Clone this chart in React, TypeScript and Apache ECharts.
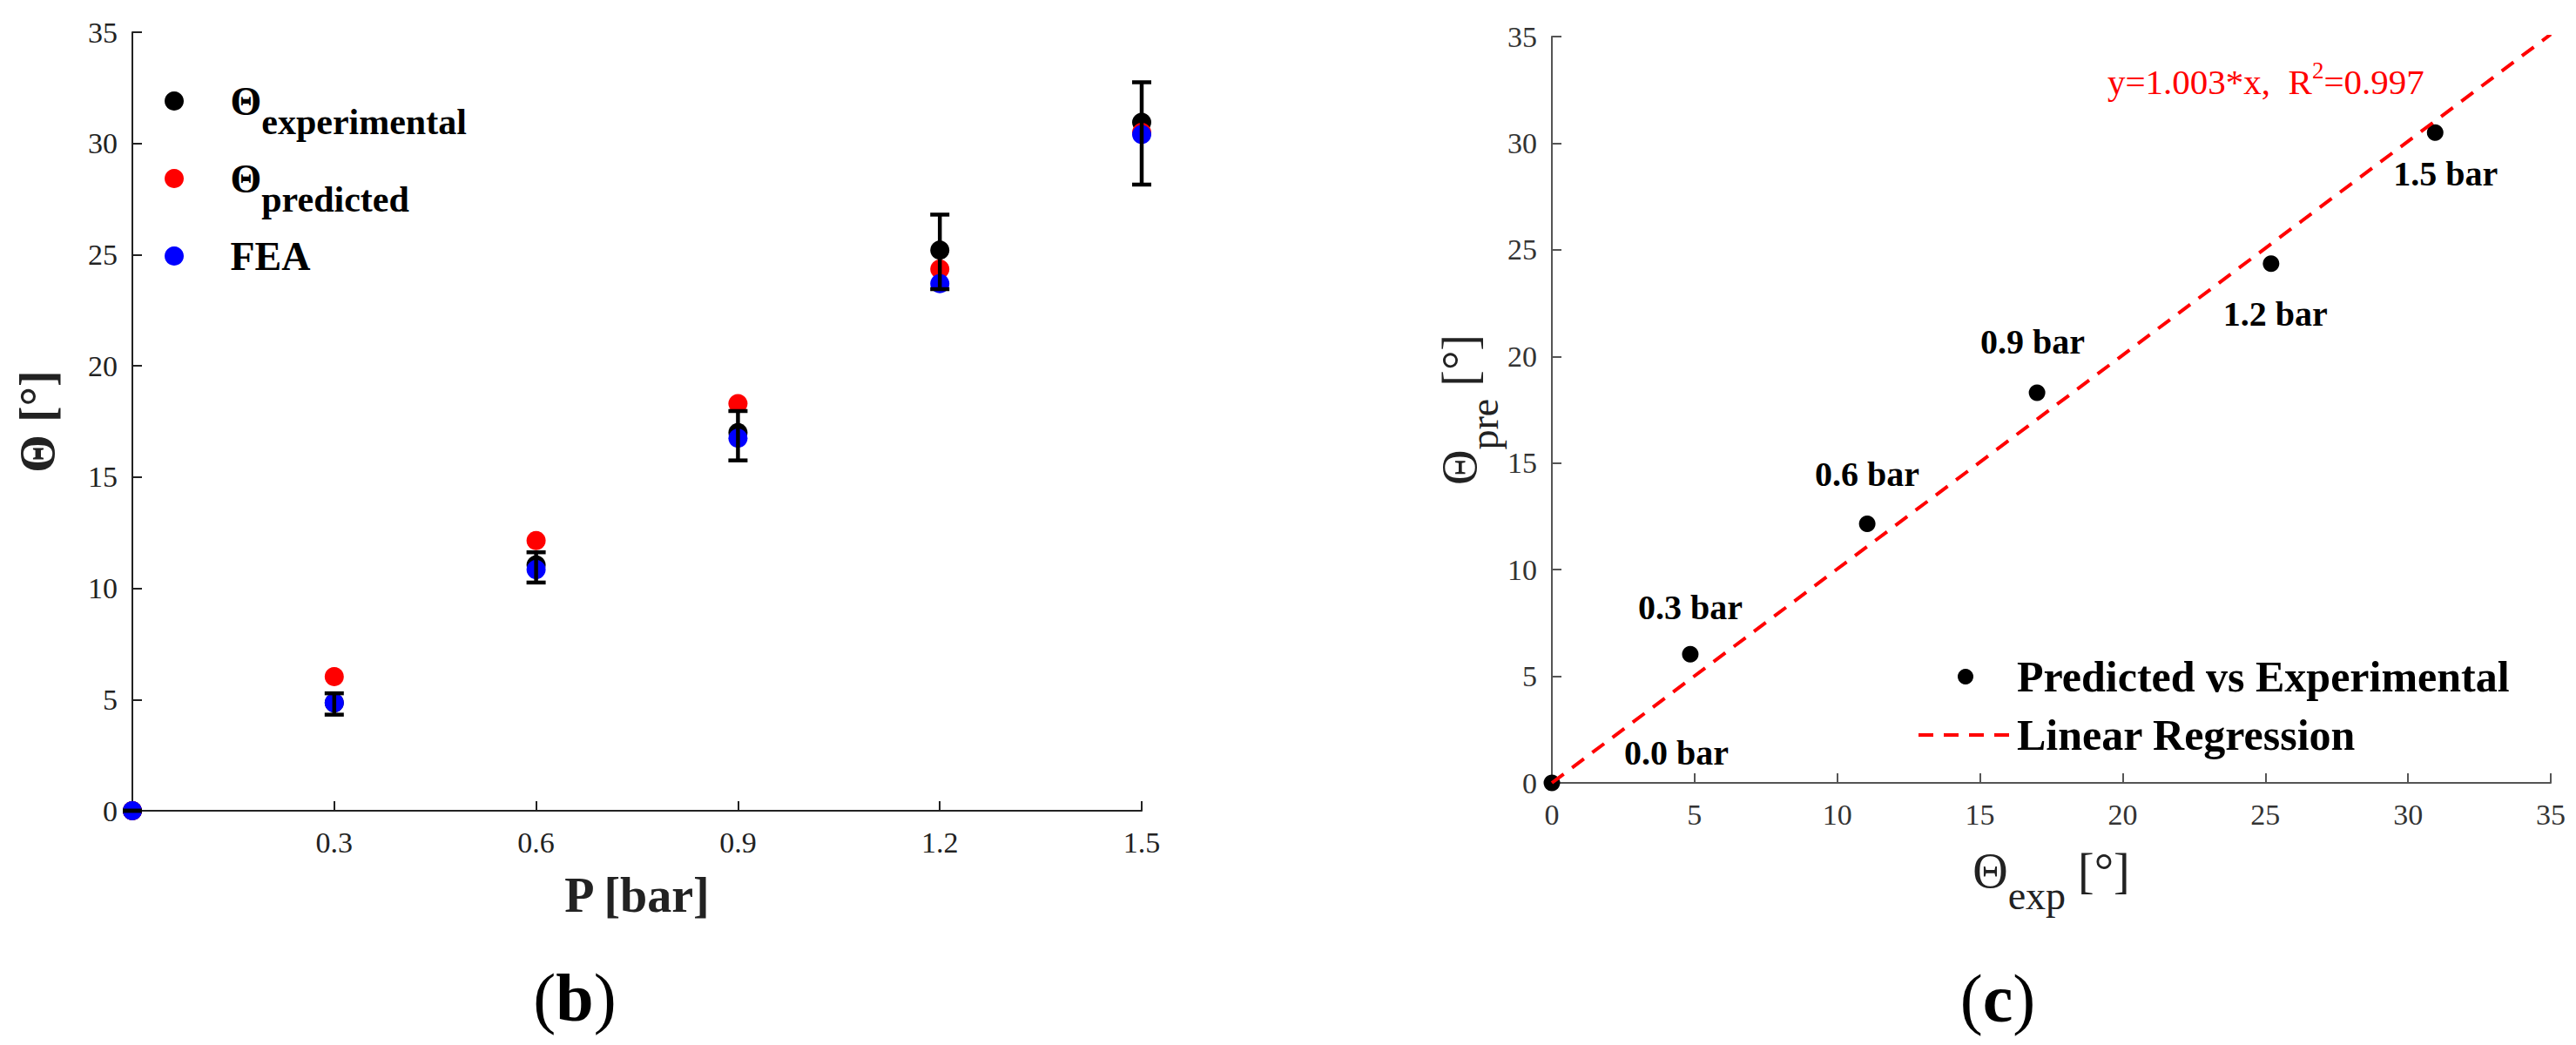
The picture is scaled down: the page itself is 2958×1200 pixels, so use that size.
import React, { useEffect, useRef } from 'react';
import * as echarts from 'echarts';

// ---------- data ----------
const pressureBar = [0, 0.3, 0.6, 0.9, 1.2, 1.5];
const thetaExperimental = [0, 4.85, 11.05, 17.0, 25.2, 30.95];
const thetaExpLow = [0, 4.32, 10.26, 15.75, 23.45, 28.15];
const thetaExpHigh = [0, 5.28, 11.62, 17.97, 26.8, 32.75];
const thetaPredicted = [0, 6.03, 12.15, 18.3, 24.35, 30.5];
const thetaFEA = [0, 4.85, 10.84, 16.75, 23.7, 30.4];
const regressionSlope = 1.003;
const regressionR2 = 0.997;
const regressionXRange = [0, 35];
const pointLabels = pressureBar.map((p) => `${p.toFixed(1)} bar`);

// ---------- layout (not data) ----------
const pointLabelOffsets = [
  [143, -35],
  [0, -54],
  [0, -57],
  [-5, -58],
  [5, 58],
  [12, 47],
];
const SERIF = "'Liberation Serif', 'Times New Roman', serif";
const REG_DASH = [17, 12];

export default function App() {
  const ref = useRef<HTMLDivElement>(null);

  useEffect(() => {
    if (!ref.current) return;
    const chart = echarts.init(ref.current, null, { renderer: 'svg' });

    const axisCommon = (color: string) => ({
      type: 'value',
      splitLine: { show: false },
      axisLine: { show: true, onZero: false, lineStyle: { color, width: 2 } },
      axisTick: { show: true, inside: true, length: 11, lineStyle: { color, width: 2 } },
    });

    const option: any = {
      animation: false,
      backgroundColor: '#ffffff',
      textStyle: { fontFamily: SERIF },
      grid: [
        { left: 152, top: 37, width: 1159, height: 894 },
        { left: 1782, top: 42, width: 1147, height: 857 },
      ],
      xAxis: [
        {
          ...axisCommon('#222'),
          gridIndex: 0,
          min: 0,
          max: 1.5,
          interval: 0.3,
          axisLabel: {
            fontSize: 34,
            color: '#222',
            margin: 19,
            fontFamily: SERIF,
            formatter: (v: number) => (Math.abs(v) < 1e-9 ? '' : v.toFixed(1)),
          },
          name: 'P [bar]',
          nameLocation: 'middle',
          nameGap: 69,
          nameTextStyle: { fontSize: 56, fontWeight: 'bold', color: '#222', fontFamily: SERIF },
        },
        {
          ...axisCommon('#555'),
          gridIndex: 1,
          min: 0,
          max: 35,
          interval: 5,
          axisLabel: { fontSize: 34, color: '#333', margin: 19, fontFamily: SERIF },
          name: '{t|Θ}{s|exp}{t| [°]}',
          nameLocation: 'middle',
          nameGap: 73,
          nameTextStyle: {
            color: '#222',
            fontFamily: SERIF,
            rich: {
              t: { fontSize: 56, verticalAlign: 'top', lineHeight: 56, fontFamily: SERIF, color: '#222' },
              s: { fontSize: 46, verticalAlign: 'top', lineHeight: 46, padding: [33, 0, 0, 0], fontFamily: SERIF, color: '#222' },
            },
          },
        },
      ],
      yAxis: [
        {
          ...axisCommon('#222'),
          gridIndex: 0,
          min: 0,
          max: 35,
          interval: 5,
          axisLabel: { fontSize: 34, color: '#222', margin: 17, fontFamily: SERIF },
          name: 'Θ [°]',
          nameLocation: 'middle',
          nameRotate: 90,
          nameGap: 81,
          nameTextStyle: { fontSize: 56, fontWeight: 'bold', color: '#222', fontFamily: SERIF },
        },
        {
          ...axisCommon('#555'),
          gridIndex: 1,
          min: 0,
          max: 35,
          interval: 5,
          axisLabel: { fontSize: 34, color: '#333', margin: 17, fontFamily: SERIF },
          name: '{t|Θ}{s|pre}{t| [°]}',
          nameLocation: 'middle',
          nameRotate: 90,
          nameGap: 76,
          nameTextStyle: {
            color: '#222',
            fontFamily: SERIF,
            rich: {
              t: { fontSize: 56, verticalAlign: 'top', lineHeight: 56, fontFamily: SERIF, color: '#222' },
              s: { fontSize: 46, verticalAlign: 'top', lineHeight: 46, padding: [33, 0, 0, 0], fontFamily: SERIF, color: '#222' },
            },
          },
        },
      ],
      legend: [
        {
          data: ['Θexperimental', 'Θpredicted', 'FEA'],
          orient: 'vertical',
          left: 184,
          top: 88,
          itemWidth: 119,
          itemHeight: 22,
          itemGap: -11,
          icon: 'circle',
          selectedMode: false,
          formatter: (name: string) =>
            name.startsWith('Θ') ? `{t|Θ}{s|${name.slice(1)}}` : `{f|${name}}`,
          textStyle: {
            fontFamily: SERIF,
            color: '#000',
            rich: {
              t: { fontSize: 46, fontWeight: 'bold', verticalAlign: 'top', lineHeight: 46, fontFamily: SERIF, color: '#000' },
              s: { fontSize: 42, fontWeight: 'bold', verticalAlign: 'top', lineHeight: 42, padding: [26, 0, 32, 0], fontFamily: SERIF, color: '#000' },
              f: { fontSize: 46, fontWeight: 'bold', verticalAlign: 'top', lineHeight: 46, padding: [0, 0, 24, 0], fontFamily: SERIF, color: '#000' },
            },
          },
        },
        {
          data: [
            { name: 'Predicted vs Experimental' },
            {
              name: 'Linear Regression',
              itemStyle: { opacity: 0 },
              lineStyle: { opacity: 1, width: 4, color: '#ff0000', type: REG_DASH },
            },
          ],
          orient: 'vertical',
          left: 2196,
          top: 747,
          itemWidth: 108,
          itemHeight: 18,
          itemGap: 17,
          selectedMode: false,
          textStyle: { fontSize: 50, fontWeight: 'bold', color: '#000', fontFamily: SERIF },
        },
      ],
      graphic: [
        {
          type: 'text',
          x: 660,
          y: 1145,
          style: {
            text: '{p|(}{b|b}{p|)}',
            align: 'center',
            verticalAlign: 'middle',
            fill: '#000',
            rich: {
              p: { fontSize: 78, fontFamily: SERIF, fill: '#000' },
              b: { fontSize: 78, fontWeight: 'bold', fontFamily: SERIF, fill: '#000' },
            },
          },
        },
        {
          type: 'text',
          x: 2294,
          y: 1146,
          style: {
            text: '{p|(}{b|c}{p|)}',
            align: 'center',
            verticalAlign: 'middle',
            fill: '#000',
            rich: {
              p: { fontSize: 78, fontFamily: SERIF, fill: '#000' },
              b: { fontSize: 78, fontWeight: 'bold', fontFamily: SERIF, fill: '#000' },
            },
          },
        },
        {
          type: 'text',
          x: 2420,
          y: 67,
          style: {
            text: `{a|y=${regressionSlope.toFixed(3)}*x,  R}{sup|2}{a|=${regressionR2.toFixed(3)}}`,
            align: 'left',
            verticalAlign: 'top',
            fill: '#ff0000',
            rich: {
              a: { fontSize: 41, fontFamily: SERIF, fill: '#ff0000', verticalAlign: 'bottom', lineHeight: 47 },
              sup: { fontSize: 27, fontFamily: SERIF, fill: '#ff0000', verticalAlign: 'top', lineHeight: 27 },
            },
          },
        },
      ],
      series: [
        {
          name: 'Θexperimental',
          type: 'scatter',
          xAxisIndex: 0,
          yAxisIndex: 0,
          symbolSize: 22,
          z: 2,
          itemStyle: { color: '#000000', opacity: 1 },
          data: pressureBar.map((p, i) => [p, thetaExperimental[i]]),
        },
        {
          name: 'Θpredicted',
          type: 'scatter',
          xAxisIndex: 0,
          yAxisIndex: 0,
          symbolSize: 22,
          z: 3,
          itemStyle: { color: '#ff0000', opacity: 1 },
          data: pressureBar.map((p, i) => [p, thetaPredicted[i]]),
        },
        {
          name: 'FEA',
          type: 'scatter',
          xAxisIndex: 0,
          yAxisIndex: 0,
          symbolSize: 22,
          z: 4,
          itemStyle: { color: '#0000ff', opacity: 1 },
          data: pressureBar.map((p, i) => [p, thetaFEA[i]]),
        },
        {
          name: 'Error',
          type: 'custom',
          xAxisIndex: 0,
          yAxisIndex: 0,
          z: 5,
          encode: { x: 0, y: [1, 2] },
          data: pressureBar.map((p, i) => [p, thetaExpLow[i], thetaExpHigh[i]]),
          renderItem: (params: any, api: any) => {
            const x = api.value(0);
            const lo = api.coord([x, api.value(1)]);
            const hi = api.coord([x, api.value(2)]);
            const hw = 11;
            const style = { stroke: '#000', lineWidth: 4.5 };
            return {
              type: 'group',
              children: [
                { type: 'line', shape: { x1: lo[0], y1: lo[1], x2: hi[0], y2: hi[1] }, style },
                { type: 'line', shape: { x1: lo[0] - hw, y1: lo[1], x2: lo[0] + hw, y2: lo[1] }, style },
                { type: 'line', shape: { x1: hi[0] - hw, y1: hi[1], x2: hi[0] + hw, y2: hi[1] }, style },
              ],
            };
          },
        },
        {
          name: 'Predicted vs Experimental',
          type: 'scatter',
          xAxisIndex: 1,
          yAxisIndex: 1,
          symbolSize: 19,
          z: 3,
          itemStyle: { color: '#000000', opacity: 1 },
          label: {
            show: true,
            position: 'inside',
            formatter: '{b}',
            fontSize: 40,
            fontWeight: 'bold',
            fontFamily: SERIF,
            color: '#000',
            opacity: 1,
          },
          data: pressureBar.map((p, i) => ({
            name: pointLabels[i],
            value: [thetaExperimental[i], thetaPredicted[i]],
            label: { offset: pointLabelOffsets[i] },
          })),
        },
        {
          name: 'Linear Regression',
          type: 'line',
          xAxisIndex: 1,
          yAxisIndex: 1,
          symbol: 'none',
          z: 6,
          lineStyle: { color: '#ff0000', width: 4, type: REG_DASH },
          itemStyle: { color: '#ff0000' },
          data: regressionXRange.map((x) => [x, regressionSlope * x]),
        },
      ],
    };

    chart.setOption(option);
    return () => chart.dispose();
  }, []);

  return (
    <div
      ref={ref}
      style={{ position: 'absolute', left: 0, top: 0, width: 2958, height: 1200, background: '#fff' }}
    />
  );
}
